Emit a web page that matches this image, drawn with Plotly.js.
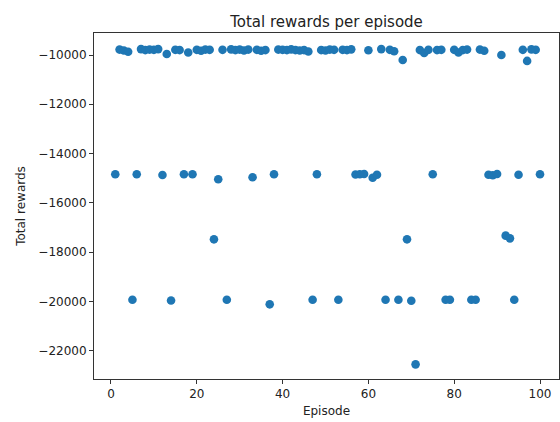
<!DOCTYPE html>
<html>
<head>
<meta charset="utf-8">
<script src="https://cdn.plot.ly/plotly-3.0.1.min.js"></script>
<style>html,body{margin:0;padding:0;background:#fff;}#chart{width:560px;height:422px;}</style>
</head>
<body>
<div id="chart"></div>
<script>
// Episodes 1..100
const episodes = [
  1,2,3,4,5,6,7,8,9,10,
  11,12,13,14,15,16,17,18,19,20,
  21,22,23,24,25,26,27,28,29,30,
  31,32,33,34,35,36,37,38,39,40,
  41,42,43,44,45,46,47,48,49,50,
  51,52,53,54,55,56,57,58,59,60,
  61,62,63,64,65,66,67,68,69,70,
  71,72,73,74,75,76,77,78,79,80,
  81,82,83,84,85,86,87,88,89,90,
  91,92,93,94,95,96,97,98,99,100
];
// Total rewards per episode
const totalRewards = [
  -14840, -9780, -9820, -9870, -19930, -14840, -9760, -9800, -9780, -9790,
  -9760, -14870, -9960, -19960, -9790, -9800, -14840, -9900, -14840, -9790,
  -9830, -9780, -9790, -17480, -15045, -9790, -19930, -9770, -9800, -9780,
  -9820, -9780, -14960, -9790, -9830, -9800, -20118, -14840, -9780, -9790,
  -9800, -9770, -9800, -9820, -9800, -9860, -19930, -14840, -9800, -9820,
  -9780, -9790, -19930, -9790, -9800, -9770, -14850, -14840, -14830, -9810,
  -14980, -14860, -9760, -19930, -9790, -9850, -19930, -10200, -17480, -19970,
  -22553, -9800, -9920, -9790, -14840, -9800, -9790, -19930, -19930, -9790,
  -9900, -9800, -9780, -19930, -19930, -9780, -9830, -14860, -14880, -14830,
  -10000, -17330, -17440, -19930, -14860, -9790, -10240, -9770, -9790, -14840
];
const xTickVals = [0, 20, 40, 60, 80, 100];
const xTickText = ["0", "20", "40", "60", "80", "100"];
const yTickVals = [-22000, -20000, -18000, -16000, -14000, -12000, -10000];
const yTickText = ["\u221222000", "\u221220000", "\u221218000", "\u221216000", "\u221214000", "\u221212000", "\u221210000"];

const fontFam = "DejaVu Sans, sans-serif";
const axisCommon = {
  showgrid: false, zeroline: false,
  showline: true, mirror: true, linecolor: "#333", linewidth: 1,
  ticks: "outside", ticklen: 4, tickwidth: 1, tickcolor: "#333",
  tickfont: {family: fontFam, size: 12, color: "#222"}
};
const trace = {
  x: episodes, y: totalRewards, type: "scatter", mode: "markers",
  marker: {color: "#1f77b4", size: 8.6, line: {width: 0}},
  hoverinfo: "x+y"
};
const layout = {
  width: 560, height: 422,
  margin: {l: 94, r: 1, t: 33, b: 43},
  paper_bgcolor: "#fff", plot_bgcolor: "#fff",
  showlegend: false,
  title: {text: "Total rewards per episode", font: {family: fontFam, size: 15, color: "#222"}, x: 0.5, xanchor: "center", xref: "paper", y: 1, yref: "paper", yanchor: "bottom", pad: {b: 6}},
  xaxis: Object.assign({}, axisCommon, {
    range: [-3.96, 104.43], tickmode: "array", tickvals: xTickVals, ticktext: xTickText,
    title: {text: "Episode", font: {family: fontFam, size: 12, color: "#222"}, standoff: 6}
  }),
  yaxis: Object.assign({}, axisCommon, {
    range: [-23148, -9107], tickmode: "array", tickvals: yTickVals, ticktext: yTickText,
    title: {text: "Total rewards", font: {family: fontFam, size: 12, color: "#222"}, standoff: 10}
  })
};
Plotly.newPlot("chart", [trace], layout, {displayModeBar: false, staticPlot: true});
</script>
</body>
</html>
